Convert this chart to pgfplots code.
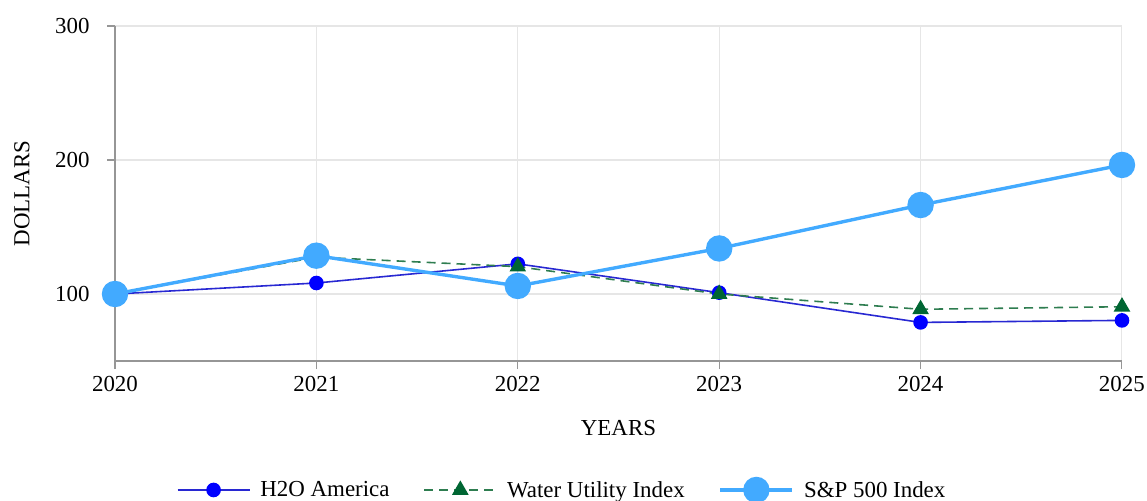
\documentclass[border=0pt]{standalone}
\usepackage{fontspec}
\setmainfont{Liberation Serif}
\usepackage{pgfplots}
\pgfplotsset{compat=1.18}

\definecolor{hblue}{RGB}{0,0,255}
\definecolor{hline}{RGB}{40,40,210}
\definecolor{wgreen}{RGB}{0,102,51}
\definecolor{wline}{RGB}{46,125,80}
\definecolor{spblue}{RGB}{66,170,255}
\definecolor{gridc}{RGB}{230,230,230}
\definecolor{axc}{RGB}{150,150,150}

\begin{document}
\begin{tikzpicture}
\path[use as bounding box] (-115bp,-140bp) rectangle (1032bp,361bp);
\begin{axis}[
  scale only axis,
  width=1007bp, height=335bp,
  xmin=2020, xmax=2025,
  ymin=50, ymax=300,
  xtick={2020,...,2025},
  ytick={100,200,300},
  xticklabel style={/pgf/number format/1000 sep={}, yshift=-4bp},
  yticklabel style={xshift=-14bp},
  /pgf/number format/assume math mode=true,
  font=\fontsize{23}{27}\selectfont,
  grid=major,
  major grid style={gridc, line width=1.2pt},
  axis x line*=bottom,
  axis y line*=left,
  axis line style={axc, line width=1.6pt, -},
  tick style={axc, line width=1.2pt},
  tick align=outside,
  major tick length=8bp,
  xlabel={YEARS},
  ylabel={DOLLARS},
  xlabel style={at={(axis description cs:0.5,-0.2)}, anchor=center},
  ylabel style={at={(axis description cs:-0.0924,0.5)}, anchor=center},
  legend columns=3,
  legend style={at={(0.444,-0.385)}, anchor=center, draw=none, fill=none,
    font=\fontsize{23}{27}\selectfont,
    /tikz/every odd column/.append style={column sep=8bp},
    /tikz/every even column/.append style={column sep=32bp}},
  legend image code/.code={\draw[mark repeat=2,mark phase=2] plot coordinates {(0bp,0bp) (36bp,0bp) (72bp,0bp)};},
]
\addplot[hline, line width=1.6pt, mark=*, mark size=6.5bp, mark options={hblue, fill=hblue}]
  coordinates {(2020,100) (2021,108.2) (2022,122.5) (2023,101) (2024,78.8) (2025,80.3)};
\addplot[wline, line width=1.6pt, dash pattern=on 9bp off 6bp, mark=triangle*, mark size=8bp, mark options={solid, wgreen, fill=wgreen}]
  coordinates {(2020,100) (2021,127.5) (2022,120.4) (2023,100) (2024,88.6) (2025,90.5)};
\addplot[spblue, line width=3.4pt, mark=*, mark size=11.5bp, mark options={spblue, fill=spblue}]
  coordinates {(2020,100) (2021,128.6) (2022,106) (2023,134) (2024,166.4) (2025,196.3)};
\legend{H2O America, Water Utility Index, S\&P 500 Index}
\end{axis}
\end{tikzpicture}
\end{document}
